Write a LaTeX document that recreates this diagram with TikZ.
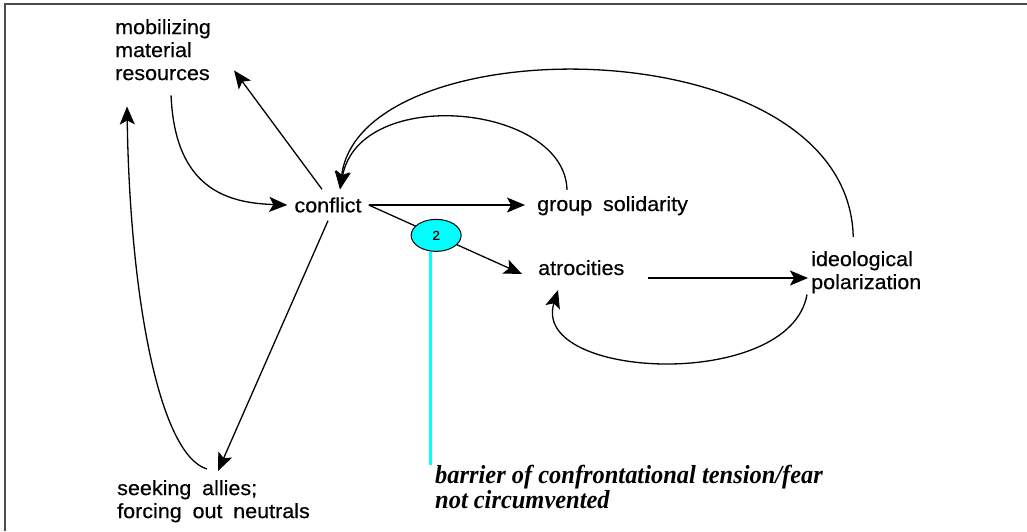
\documentclass[tikz,border=0pt]{standalone}
\usepackage{fontspec}
\setmainfont{Liberation Sans}[FakeStretch=1.05, WordSpace=1.8, FakeBold=0.4]
\newfontfamily\barrierfont{Liberation Serif}[FakeStretch=0.94]
\usetikzlibrary{arrows.meta, shapes.geometric, positioning}
\definecolor{aqua}{RGB}{0,255,255}

\begin{document}
\begin{tikzpicture}[x=1pt, y=-1pt,
    lbl/.style={inner sep=0pt, align=left, font=\fontsize{20.5}{23}\selectfont},
    arr/.style={line width=1.3pt, -{Stealth[length=18pt, width=15pt, inset=4pt]}},
    bubble/.style={ellipse, draw, line width=1pt, fill=aqua, minimum width=50pt,
        minimum height=32pt, inner sep=0pt, font=\fontsize{13}{13}\selectfont}]
        \useasboundingbox (0,0) rectangle (1027,531);

        % Frame
        \draw[gray!60!black, line width=1.5pt] (5,531) -- (5,4) -- (1027,4);

        % --- NODES ---
        \node[lbl, anchor=north west] (mobil) at (115,19) {mobilizing\\material\\resources};
        \node[lbl, inner xsep=7pt, inner ysep=8pt] (conflict) at (328,205) {conflict};
        \node[lbl, anchor=base west] (solid) at (537,211) {group solidarity};
        \node[lbl, anchor=base west] (atroc) at (538,275) {atrocities};
        \node[lbl, anchor=north west] (ideol) at (811,251) {ideological\\polarization};
        \node[lbl, anchor=north west] (allies) at (117,480) {seeking allies;\\forcing out neutrals};
        \node[anchor=north west, inner sep=0pt, align=left,
            font=\barrierfont\bfseries\itshape\fontsize{26}{22}\selectfont] (barrier) at (435,465)
            {barrier of confrontational tension/fear\\not circumvented};

        % --- LEFT LOOP ---
        \draw[arr] ([xshift=-6pt]conflict.north) -- ([shift={(23,-10)}]mobil.south east);
        \draw[arr] ([shift={(8,15)}]mobil.south) .. controls +(4,95) and +(-58,-2) .. (conflict.west);
        \draw[arr] (conflict.south) -- ([shift={(101,-9)}]allies.north west);
        \draw[arr] ([shift={(90,-11)}]allies.north west) .. controls +(-47,-14) and +(3,194) .. ([shift={(12,26)}]mobil.south west);

        % --- RIGHT SIDE ---
        \draw[arr] (conflict.east) -- ([xshift=-12pt]conflict.east -| solid.west);
        \draw[arr] (conflict.east) -- node[bubble, pos=0.44] (two) {2} ([shift={(-16,-1)}]atroc.base west);
        \draw[arr] ([shift={(30,-6)}]solid.north west) .. controls +(-2,-86) and +(20,-105) .. ([xshift=12pt]conflict.north);
        \draw[arr] ([shift={(-13,-14)}]ideol.north) .. controls +(-5,-212) and +(20,-165) .. ([xshift=12pt]conflict.north);
        \draw[arr] ([shift={(23,3)}]atroc.base east) -- ([shift={(-3,3)}]atroc.base east -| ideol.west);
        \draw[arr] ([shift={(-4,1)}]ideol.south west) .. controls +(-17,97) and +(-28,90) .. ([shift={(20,15)}]atroc.base west);

        % --- BARRIER ---
        \draw[aqua, line width=3pt] ([xshift=-6pt]two.south) -- ([xshift=-6pt]two.south |- barrier.north);

    \end{tikzpicture}
\end{document}
